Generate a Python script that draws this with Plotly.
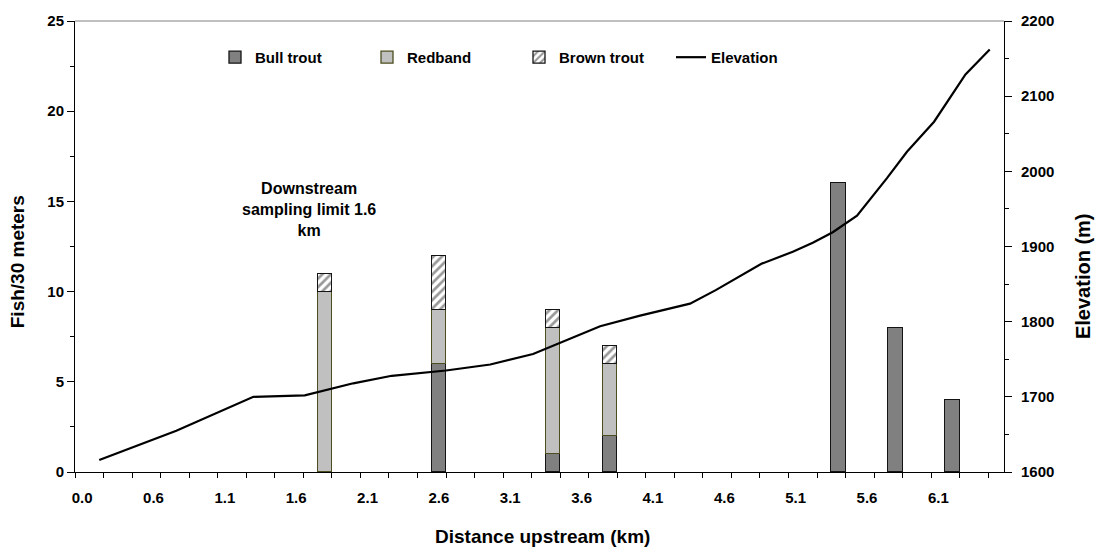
import plotly.graph_objects as go

# Fish counts per 30 m sampling reach, stacked by species
reach_km = [1.75, 2.55, 3.35, 3.75, 5.35, 5.75, 6.15]
bull_trout = [0, 6, 1, 2, 16, 8, 4]
redband = [10, 3, 7, 4, 0, 0, 0]
brown_trout = [1, 3, 1, 1, 0, 0, 0]

# Stream elevation profile
profile_km = [0.17, 0.71, 1.25, 1.61, 1.95, 2.22, 2.60, 2.91, 3.21, 3.35, 3.68, 3.96,
              4.31, 4.49, 4.81, 5.03, 5.17, 5.31, 5.48, 5.69, 5.83, 6.02, 6.24, 6.41]
elevation_m = [1616, 1655, 1700, 1702, 1718, 1728, 1735, 1743, 1757, 1768, 1794, 1808,
               1824, 1842, 1877, 1893, 1905, 1919, 1941, 1991, 2026, 2066, 2129, 2162]

# Distance axis labels
dist_tick_pos = [0.05, 0.55, 1.05, 1.55, 2.05, 2.55, 3.05, 3.55, 4.05, 4.55, 5.05, 5.55, 6.05]
dist_tick_text = ["0.0", "0.6", "1.1", "1.6", "2.1", "2.6", "3.1", "3.6", "4.1", "4.6", "5.1", "5.6", "6.1"]

FONT = "Liberation Sans, Arial, sans-serif"
BAR_W = 0.1


def nonzero(values):
    # empty segments are left out so no outline is stroked for them
    return [v if v else None for v in values]


fig = go.Figure()
fig.add_trace(go.Bar(
    x=reach_km, y=nonzero(bull_trout), width=BAR_W, name="Bull trout",
    marker=dict(color="#808080", line=dict(color="#141414", width=1.3)),
))
fig.add_trace(go.Bar(
    x=reach_km, y=nonzero(redband), width=BAR_W, name="Redband",
    marker=dict(color="#c0c0c0", line=dict(color="#4d4d1f", width=1.3)),
))
fig.add_trace(go.Bar(
    x=reach_km, y=nonzero(brown_trout), width=BAR_W, name="Brown trout",
    marker=dict(color="white", line=dict(color="#141414", width=1.3),
                pattern=dict(shape="/", fgcolor="#333333", bgcolor="white",
                             size=6, solidity=0.45)),
))
fig.add_trace(go.Scatter(
    x=profile_km, y=elevation_m, name="Elevation", yaxis="y2",
    mode="lines", line=dict(color="black", width=2.2),
))

L, R, T, B = 75, 91, 14, 82
W, H = 1095, 554
pw, ph = W - L - R, H - T - B


def px_x(x):
    return (x - L) / pw


def px_y(y):
    return (H - B - y) / ph


tick_font = dict(family=FONT, size=15, color="black", weight="bold")
title_font = dict(family=FONT, size=19, color="black", weight="bold")

fig.update_layout(
    width=W, height=H,
    margin=dict(l=L, r=R, t=T, b=B),
    paper_bgcolor="white", plot_bgcolor="white",
    barmode="stack", bargap=0,
    showlegend=True,
    legend=dict(
        orientation="h", traceorder="normal",
        x=px_x(215), xanchor="left", y=px_y(51), yanchor="middle",
        entrywidth=107, entrywidthmode="pixels",
        font=dict(family=FONT, size=15, color="black", weight="bold"),
        bgcolor="rgba(0,0,0,0)",
    ),
    xaxis=dict(
        range=[0, 6.51], showgrid=False, zeroline=False,
        showline=True, linecolor="black", linewidth=1,
        tickmode="array", tickvals=dist_tick_pos, ticktext=dist_tick_text,
        ticks="", tickfont=tick_font, ticklabelstandoff=12,
        minor=dict(tick0=0, dtick=0.2, ticks="outside", ticklen=5,
                   tickcolor="black", showgrid=False),
    ),
    yaxis=dict(
        range=[0, 25], dtick=5, showgrid=False, zeroline=False,
        showline=True, linecolor="black", linewidth=1,
        ticks="outside", ticklen=7, tickcolor="black", tickfont=tick_font,
        minor=dict(dtick=2.5, ticks="outside", ticklen=4, tickcolor="black", showgrid=False),
    ),
    yaxis2=dict(
        range=[1600, 2200], dtick=100, overlaying="y", side="right",
        showgrid=False, zeroline=False,
        showline=True, linecolor="black", linewidth=1,
        ticks="outside", ticklen=7, tickcolor="black", tickfont=tick_font,
        ticklabelstandoff=6,
        minor=dict(dtick=50, ticks="outside", ticklen=4, tickcolor="black", showgrid=False),
    ),
    shapes=[dict(type="line", xref="paper", yref="paper", x0=0, x1=1, y0=1, y1=1,
                 line=dict(color="#808080", width=1))],
    annotations=[
        dict(text="Distance upstream (km)", xref="paper", yref="paper",
             x=px_x(542), y=px_y(537), xanchor="center", yanchor="middle",
             showarrow=False, font=title_font),
        dict(text="Fish/30 meters", xref="paper", yref="paper",
             x=px_x(17), y=px_y(259), xanchor="center", yanchor="middle",
             textangle=-90, showarrow=False, font=title_font),
        dict(text="Elevation (m)", xref="paper", yref="paper",
             x=px_x(1083), y=px_y(273), xanchor="center", yanchor="middle",
             textangle=-90, showarrow=False,
             font=dict(family=FONT, size=20, color="black", weight="bold")),
        dict(text="Downstream<br>sampling limit 1.6<br>km", xref="paper", yref="paper",
             x=px_x(309), y=px_y(205), xanchor="center", yanchor="middle",
             align="center", showarrow=False,
             font=dict(family=FONT, size=16, color="black", weight="bold")),
    ],
)

fig.write_html("out.html")
